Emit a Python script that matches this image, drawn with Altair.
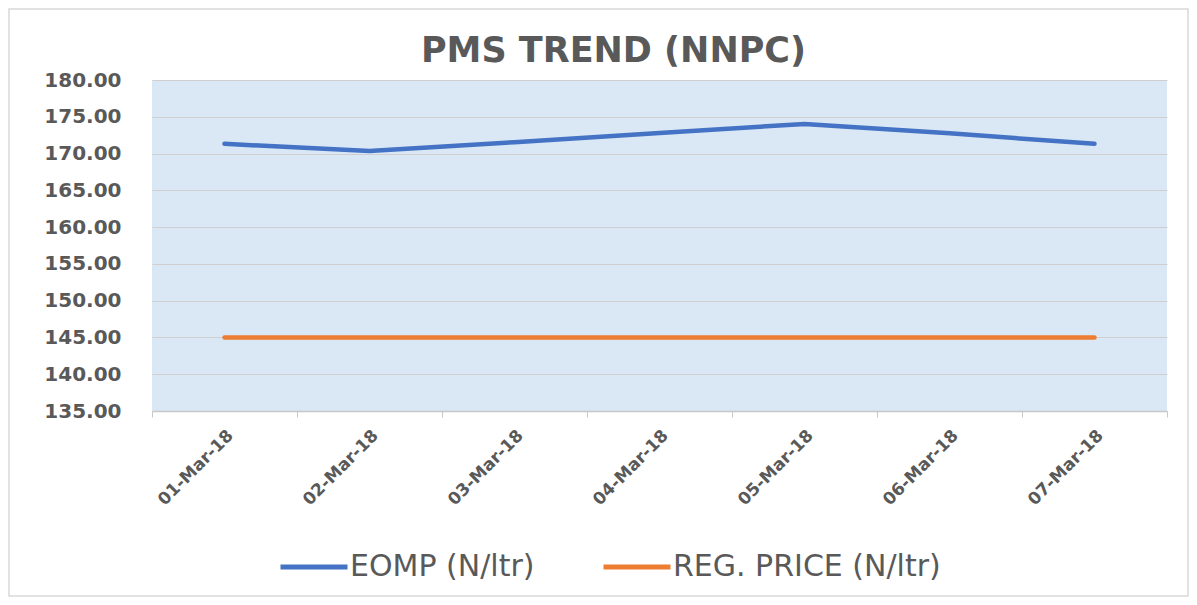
import altair as alt
import pandas as pd

dates = ["01-Mar-18", "02-Mar-18", "03-Mar-18", "04-Mar-18", "05-Mar-18", "06-Mar-18", "07-Mar-18"]
eomp = [171.32, 170.36, 171.55, 172.80, 174.02, 172.75, 171.32]
reg_price = [145.0, 145.0, 145.0, 145.0, 145.0, 145.0, 145.0]
series_names = ["EOMP (N/ltr)", "REG. PRICE (N/ltr)"]
series_colors = ["#4472C4", "#ED7D31"]
y_ticks = [135, 140, 145, 150, 155, 160, 165, 170, 175, 180]

rows = []
for d, v in zip(dates, eomp):
    rows.append({"date": d, "value": v, "series": series_names[0]})
for d, v in zip(dates, reg_price):
    rows.append({"date": d, "value": v, "series": series_names[1]})
df = pd.DataFrame(rows)

FONT = "DejaVu Sans"
TXT = "#595959"

lines = alt.Chart(df).mark_line(strokeWidth=4.5, strokeCap="round", strokeJoin="round").encode(
    x=alt.X("date:N", sort=dates, bandPosition=0.5,
            scale=alt.Scale(type="band", paddingInner=0, paddingOuter=0),
            axis=alt.Axis(title=None, labelAngle=-45, tickBand="extent", grid=False,
                          labelFont=FONT, labelFontSize=17, labelFontWeight="bold",
                          labelColor=TXT, labelPadding=10, tickSize=6,
                          tickColor="#c8c8c8", domainColor="#c8c8c8", domainWidth=1.5)),
    y=alt.Y("value:Q", scale=alt.Scale(domain=[135, 180], nice=False, zero=False),
            axis=alt.Axis(title=None, values=y_ticks, format=".2f", domain=False, ticks=False,
                          labelFont=FONT, labelFontSize=20, labelFontWeight="bold",
                          labelColor=TXT, labelPadding=31, gridColor="#cfcfcf", gridWidth=1)),
    color=alt.Color("series:N",
                    scale=alt.Scale(domain=series_names, range=series_colors),
                    legend=alt.Legend(title=None, orient="none", direction="horizontal",
                                      legendX=126, legendY=451, symbolType="stroke",
                                      symbolSize=4489, symbolStrokeWidth=5,
                                      labelFont=FONT, labelFontSize=30, labelColor=TXT,
                                      labelOffset=0, columnPadding=58, labelLimit=400)),
)

border = alt.Chart(pd.DataFrame({"a": [0]})).mark_rect(
    fill="transparent", stroke="#d9d9d9", strokeWidth=1.5
).encode(x=alt.value(-143), x2=alt.value(1036), y=alt.value(-71), y2=alt.value(516))

chart = alt.layer(border, lines).properties(
    width=1015, height=331,
    padding={"left": 144, "top": 72, "right": 22, "bottom": 186},
    autosize=alt.AutoSizeParams(type="none"),
    background="white",
    title=alt.TitleParams("PMS TREND (NNPC)", font=FONT, fontSize=35, fontWeight="bold",
                          color=TXT, anchor="middle", dx=-46, dy=73, offset=12),
).configure_view(fill="#dae7f5", stroke=None)

chart.save("out.html", embed_options={"renderer": "svg", "actions": False})
